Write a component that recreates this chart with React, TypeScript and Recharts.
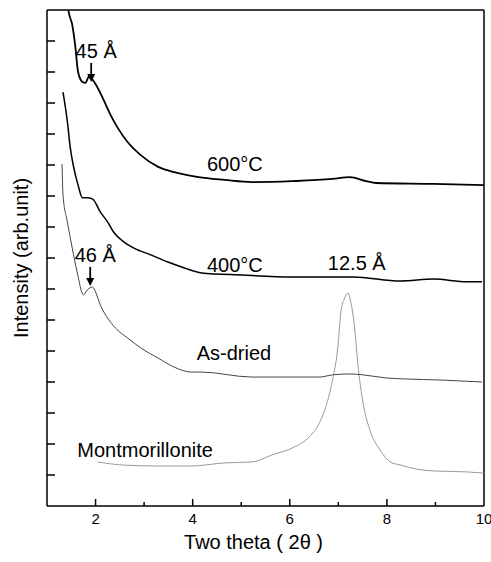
import React from 'react';
import { LineChart, Line, XAxis, YAxis, ReferenceLine, ReferenceDot } from 'recharts';

const x600 = [1.40, 1.44, 1.52, 1.58, 1.64, 1.73, 1.79, 1.87, 1.96, 2.10, 2.31, 2.46, 2.66, 2.93, 3.29, 3.62, 4.12, 4.66, 5.22, 6.05, 6.88, 7.24, 7.57, 7.78, 8.96, 10.0];
const y600 = [16.6, 16.0, 15.52, 14.87, 14.0, 13.68, 13.65, 13.87, 13.71, 13.32, 12.61, 12.19, 11.74, 11.32, 10.94, 10.77, 10.61, 10.52, 10.45, 10.48, 10.55, 10.61, 10.48, 10.42, 10.39, 10.35];

const x400 = [1.33, 1.42, 1.48, 1.54, 1.64, 1.73, 1.83, 1.94, 2.10, 2.25, 2.37, 2.58, 2.79, 3.14, 3.49, 3.83, 4.18, 5.01, 6.05, 7.30, 8.28, 8.96, 9.65, 9.96];
const y400 = [13.35, 12.39, 11.55, 11.0, 10.35, 9.94, 9.94, 9.90, 9.48, 9.16, 8.84, 8.52, 8.32, 8.10, 7.87, 7.68, 7.52, 7.45, 7.39, 7.39, 7.26, 7.32, 7.23, 7.23];

const xDried = [1.31, 1.33, 1.42, 1.52, 1.62, 1.75, 1.83, 1.94, 2.0, 2.10, 2.25, 2.41, 2.66, 2.93, 3.29, 3.62, 3.97, 4.18, 5.22, 6.61, 6.88, 7.24, 7.51, 7.99, 8.34, 9.17, 9.96];
const yDried = [11.03, 10.03, 9.16, 8.32, 7.55, 6.81, 6.97, 7.06, 6.90, 6.48, 6.06, 5.74, 5.42, 5.10, 4.77, 4.48, 4.32, 4.32, 4.16, 4.16, 4.23, 4.26, 4.23, 4.13, 4.10, 4.06, 4.0];

const xMont = [2.04, 2.58, 3.29, 3.97, 4.66, 5.22, 5.64, 6.05, 6.40, 6.61, 6.74, 6.88, 6.99, 7.05, 7.13, 7.20, 7.26, 7.34, 7.40, 7.51, 7.65, 7.86, 8.07, 8.28, 8.61, 8.96, 9.65, 10.0];
const yMont = [1.42, 1.32, 1.29, 1.29, 1.39, 1.42, 1.65, 1.87, 2.23, 2.68, 3.19, 4.06, 5.13, 6.23, 6.71, 6.87, 6.55, 5.68, 4.61, 3.32, 2.45, 1.81, 1.42, 1.32, 1.19, 1.13, 1.10, 1.06];

const xTicks = [1, 2, 3, 4, 5, 6, 7, 8, 9, 10];
const yTicks = [1, 2, 3, 4, 5, 6, 7, 8, 9, 10, 11, 12, 13, 14, 15];

const toData = (xs: number[], ys: number[]) => xs.map((x, i) => ({ x, y: ys[i] }));
const d600 = toData(x600, y600);
const d400 = toData(x400, y400);
const dDried = toData(xDried, yDried);
const dMont = toData(xMont, yMont);

const FONT = '"Liberation Sans", Arial, Helvetica, sans-serif';

const XTick = (props: any) => {
  const { x, y, payload } = props;
  const v = payload.value;
  const major = v % 2 === 0;
  return (
    <g>
      {v !== 1 && v !== 10 && (
        <line x1={x} x2={x} y1={y} y2={y - (major ? 7 : 4)} stroke="#000" strokeWidth={1.5} />
      )}
      {major && (
        <text x={x} y={y + 18} textAnchor="middle" fontSize={15} fontFamily={FONT} fill="#000">
          {v}
        </text>
      )}
    </g>
  );
};

const YTick = (props: any) => {
  const { x, y } = props;
  return <line x1={x} x2={x + 8} y1={y} y2={y} stroke="#000" strokeWidth={1.5} />;
};

const textLabel = (txt: string, size = 20) => (p: any) => (
  <text x={p.cx} y={p.cy} textAnchor="middle" fontSize={size} fontFamily={FONT} fill="#000">
    {txt}
  </text>
);

const arrowLabel = (txt: string) => (p: any) => (
  <g>
    <line x1={p.cx} x2={p.cx} y1={p.cy - 19} y2={p.cy - 6} stroke="#000" strokeWidth={1.8} />
    <path d={`M ${p.cx - 4} ${p.cy - 8} L ${p.cx + 4} ${p.cy - 8} L ${p.cx} ${p.cy} Z`} fill="#000" />
    <text x={p.cx + 5} y={p.cy - 24} textAnchor="middle" fontSize={20} fontFamily={FONT} fill="#000">
      {txt}
    </text>
  </g>
);

export default function App() {
  return (
    <div style={{ position: 'absolute', left: 0, top: 0, background: '#fff' }}>
      <LineChart width={491} height={562} margin={{ top: 10, right: 7, bottom: 0, left: 0 }}>
        <XAxis
          type="number"
          dataKey="x"
          domain={[1, 10]}
          ticks={xTicks}
          interval={0}
          height={56}
          tickSize={0}
          tickMargin={0}
          tickLine={false}
          tick={<XTick />}
          axisLine={{ stroke: '#000', strokeWidth: 1.5 }}
          allowDataOverflow
          label={{
            content: (p: any) => (
              <text
                x={p.viewBox.x + p.viewBox.width / 2 - 12}
                y={p.viewBox.y + 43}
                textAnchor="middle"
                fontSize={20}
                fontFamily={FONT}
                fill="#000"
              >
                Two theta ( 2θ )
              </text>
            ),
          }}
        />
        <YAxis
          type="number"
          dataKey="y"
          domain={[0, 16]}
          ticks={yTicks}
          interval={0}
          width={47}
          tickSize={0}
          tickMargin={0}
          tickLine={false}
          tick={<YTick />}
          axisLine={{ stroke: '#000', strokeWidth: 1.5 }}
          allowDataOverflow
          label={{
            content: (p: any) => {
              const cx = 21;
              const cy = p.viewBox.y + p.viewBox.height / 2;
              return (
                <text
                  x={cx}
                  y={cy}
                  transform={`rotate(-90 ${cx} ${cy})`}
                  textAnchor="middle"
                  dominantBaseline="central"
                  fontSize={20}
                  fontFamily={FONT}
                  fill="#000"
                >
                  Intensity (arb.unit)
                </text>
              );
            },
          }}
        />
        <ReferenceLine x={10} stroke="#000" strokeWidth={1.5} />
        <ReferenceLine y={16} stroke="#000" strokeWidth={1.5} />
        <Line data={dMont} dataKey="y" type="monotone" stroke="#9a9a9a" strokeWidth={1} dot={false} isAnimationActive={false} />
        <Line data={dDried} dataKey="y" type="monotone" stroke="#444" strokeWidth={1} dot={false} isAnimationActive={false} />
        <Line data={d400} dataKey="y" type="monotone" stroke="#000" strokeWidth={1.5} dot={false} isAnimationActive={false} />
        <Line data={d600} dataKey="y" type="monotone" stroke="#000" strokeWidth={1.8} dot={false} isAnimationActive={false} />
        <ReferenceDot x={4.87} y={10.81} r={0} shape={textLabel('600°C')} />
        <ReferenceDot x={4.87} y={7.55} r={0} shape={textLabel('400°C')} />
        <ReferenceDot x={7.38} y={7.6} r={0} shape={textLabel('12.5 Å')} />
        <ReferenceDot x={4.85} y={4.71} r={0} shape={textLabel('As-dried')} />
        <ReferenceDot x={3.02} y={1.58} r={0} shape={textLabel('Montmorillonite')} />
        <ReferenceDot x={1.91} y={13.68} r={0} shape={arrowLabel('45 Å')} />
        <ReferenceDot x={1.89} y={7.1} r={0} shape={arrowLabel('46 Å')} />
      </LineChart>
    </div>
  );
}
